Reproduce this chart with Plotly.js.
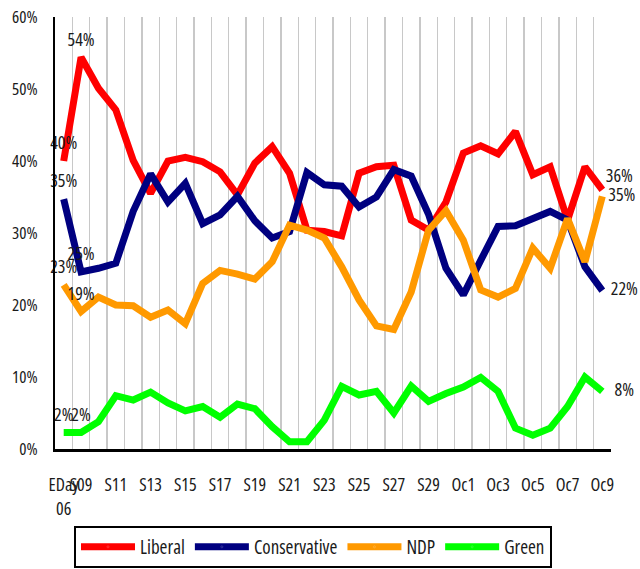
<!DOCTYPE html>
<html>
<head>
<meta charset="utf-8">
<script src="https://cdn.plot.ly/plotly-3.0.1.min.js"></script>
<style>html,body{margin:0;padding:0;background:#fff;}#chart{width:640px;height:569px;}
svg text{font-stretch:condensed !important;}</style>
</head>
<body>
<div id="chart"></div>
<script>
// Categories (one per poll day)
var categories = ["EDay 06","S09","S10","S11","S12","S13","S14","S15","S16","S17","S18","S19","S20","S21","S22","S23","S24","S25","S26","S27","S28","S29","S30","Oc1","Oc2","Oc3","Oc4","Oc5","Oc6","Oc7","Oc8","Oc9"];
// Tick labels shown on the axis (blank = not shown)
var tickLabels = ["EDay<br>06","S09","","S11","","S13","","S15","","S17","","S19","","S21","","S23","","S25","","S27","","S29","","Oc1","","Oc3","","Oc5","","Oc7","","Oc9"];

// Series values (%)
var liberal      = [40.0,54.4,50.1,47.1,40.1,35.5,40.0,40.5,39.9,38.5,35.3,39.7,42.0,38.3,30.4,30.2,29.6,38.3,39.2,39.4,31.8,30.4,34.3,41.1,42.1,41.0,44.1,38.1,39.2,31.8,39.2,36.0];
var conservative = [34.7,24.6,25.1,25.8,33.0,38.2,34.3,36.9,31.3,32.5,35.1,31.7,29.3,30.2,38.4,36.7,36.5,33.6,35.0,38.8,37.9,32.6,25.1,21.4,26.2,30.9,31.0,31.9,33.0,31.8,25.3,22.0];
var ndp          = [22.8,19.1,21.1,20.0,19.9,18.3,19.3,17.4,23.0,24.8,24.3,23.6,26.0,31.1,30.4,29.3,25.3,20.7,17.1,16.6,21.8,30.4,33.1,29.0,22.1,21.1,22.3,27.9,25.1,32.0,26.0,35.1];
var green        = [2.3,2.3,3.8,7.4,6.8,7.9,6.4,5.3,5.9,4.4,6.25,5.6,3.1,1.0,1.0,4.0,8.7,7.5,8.0,5.0,8.75,6.6,7.7,8.6,9.95,8.0,2.9,1.9,2.9,5.9,10.0,8.0];

// Which points carry a value label
var liberalLabelIdx = [0,1,31];
var conservativeLabelIdx = [0,1,31];
var ndpLabelIdx = [0,1,31];
var greenLabelIdx = [0,1,31];

var seriesNames = ["Liberal","Conservative","NDP","Green"];
var seriesColors = ["#ff0000","#000080","#ff9900","#00ff00"];

var FONT = "'Open Sans', sans-serif";

function labels(vals, idx) {
  return vals.map(function (v, i) { return idx.indexOf(i) >= 0 ? Math.round(v) + "%" : ""; });
}
function positions(vals, lastPos) {
  return vals.map(function (v, i) { return i === vals.length - 1 ? lastPos : "top center"; });
}
// invisible marker sizes, used only to pad the value labels away from the line
function padSizes(vals, idx, lastPad) {
  return vals.map(function (v, i) {
    if (idx.indexOf(i) < 0) return 0;
    return i === vals.length - 1 ? lastPad : 10;
  });
}

var allVals = [liberal, conservative, ndp, green];
var allIdx = [liberalLabelIdx, conservativeLabelIdx, ndpLabelIdx, greenLabelIdx];
var lastPos = ["top right", "middle right", "middle right", "middle right"];
var lastPad = [4, 12, 8, 18];

var traces = allVals.map(function (vals, k) {
  return {
    type: "scatter", mode: "lines+markers+text", name: seriesNames[k],
    x: categories, y: vals, xaxis: "x", yaxis: "y2",
    line: {color: seriesColors[k], width: 7},
    marker: {size: padSizes(vals, allIdx[k], lastPad[k]), opacity: 0, color: seriesColors[k]},
    text: labels(vals, allIdx[k]),
    textposition: positions(vals, lastPos[k]),
    textfont: {family: FONT, size: 18, color: "#1a1a1a"},
    cliponaxis: false
  };
});

var layout = {
  width: 640, height: 569,
  margin: {l: 55, r: 29, t: 17, b: 120, autoexpand: false},
  paper_bgcolor: "#ffffff", plot_bgcolor: "#ffffff",
  font: {family: FONT, size: 17, color: "#1a1a1a"},
  showlegend: true,
  xaxis: {
    type: "category", categoryorder: "array", categoryarray: categories,
    range: [-0.5, categories.length - 0.5],
    tickmode: "array", tickvals: categories, ticktext: tickLabels,
    tickangle: 0, tickson: "boundaries", automargin: false,
    ticks: "outside", ticklen: 20, tickcolor: "rgba(0,0,0,0)",
    ticklabelstandoff: 18,
    tickfont: {family: FONT, size: 18},
    showgrid: true, gridcolor: "#c8c8c8", gridwidth: 1.3,
    showline: true, linecolor: "#000000", linewidth: 2.5, zeroline: false
  },
  yaxis: {
    range: [0, 60], tickmode: "array", tickvals: [10, 20, 30, 40, 50],
    showticklabels: false, showgrid: true, gridcolor: "#d9d9d9", gridwidth: 2,
    showline: false, zeroline: false, ticks: "", automargin: false
  },
  yaxis2: {
    overlaying: "y", side: "left", range: [0, 60], automargin: false,
    tickmode: "linear", tick0: 0, dtick: 10, ticksuffix: "%",
    tickfont: {family: FONT, size: 17},
    showgrid: false, zeroline: false, showline: true,
    linecolor: "#000000", linewidth: 2,
    ticks: "outside", ticklen: 12, tickcolor: "rgba(0,0,0,0)"
  },
  legend: {
    orientation: "h",
    xref: "container", yref: "container",
    x: 74 / 640, xanchor: "left",
    y: 1 - 526 / 569, yanchor: "top",
    bordercolor: "#000000", borderwidth: 2, bgcolor: "#ffffff",
    font: {family: FONT, size: 19, color: "#1a1a1a"},
    itemwidth: 54, traceorder: "normal"
  }
};

Plotly.newPlot("chart", traces, layout, {displayModeBar: false, staticPlot: true});
</script>
</body>
</html>
